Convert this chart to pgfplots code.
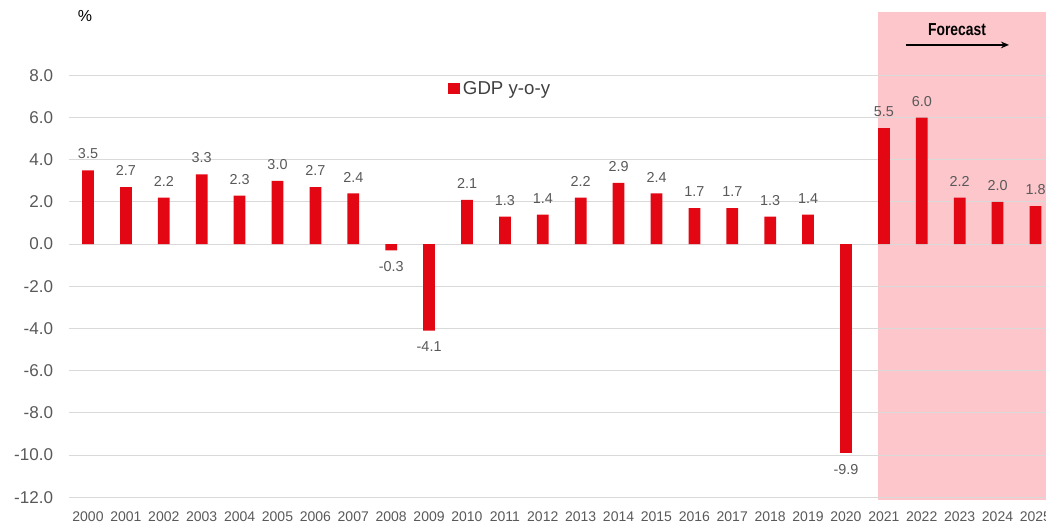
\documentclass[border=0pt]{standalone}
\usepackage{pgfplots}
\pgfplotsset{compat=1.18}
\usepackage{fontspec}
\setmainfont{Liberation Sans}
\newfontfamily\narrowfont[FakeStretch=0.8]{Liberation Sans}
\usetikzlibrary{arrows.meta}
\definecolor{barred}{HTML}{E30613}
\definecolor{fcpink}{HTML}{FCC6CB}
\definecolor{gridgray}{HTML}{D9D9D9}
\definecolor{txtgray}{HTML}{595959}
\definecolor{leggray}{HTML}{404040}
\begin{document}
\begin{tikzpicture}
\begin{axis}[
  set layers,
  x=28.425pt, y=15.825pt,
  xmin=1999.5, xmax=2025.5, ymin=-12, ymax=8,
  clip=false,
  axis line style={draw=none},
  major tick length=0pt,
  ymajorgrids, grid style={gridgray, line width=0.8pt},
  ytick={-12,-10,...,8},
  xtick={2000,...,2025},
  /pgf/number format/assume math mode=true,
  xticklabel style={font=\fontsize{10.5}{12}\selectfont, text=txtgray, yshift=-7pt, /pgf/number format/1000 sep={}},
  yticklabel style={font=\fontsize{12.8}{14}\selectfont, text=txtgray, xshift=-8.5pt,
     /pgf/number format/fixed, /pgf/number format/fixed zerofill, /pgf/number format/precision=1},
  ybar, bar width=8.8pt,
  nodes near coords,
  nodes near coords style={font=\fontsize{10.8}{12}\selectfont, text=txtgray, inner ysep=8.3pt,
     /pgf/number format/fixed, /pgf/number format/fixed zerofill, /pgf/number format/precision=1},
  legend style={at={(axis cs:2009.5,7.37)}, anchor=west, draw=none, fill=none,
     font=\fontsize{14}{16}\selectfont, text=leggray, inner sep=0pt},
]
\begin{pgfonlayer}{axis background}
\fill[fcpink] (axis cs:2020.84,-12.15) rectangle (axis cs:2026,11);
\end{pgfonlayer}
\addplot[fill=barred, draw=none,
  legend image code/.code={\fill[barred] (0pt,-4.2pt) rectangle (9pt,4.2pt);}]
  coordinates {
  (2000,3.5) (2001,2.7) (2002,2.2) (2003,3.3) (2004,2.3) (2005,3.0)
  (2006,2.7) (2007,2.4) (2008,-0.3) (2009,-4.1) (2010,2.1) (2011,1.3)
  (2012,1.4) (2013,2.2) (2014,2.9) (2015,2.4) (2016,1.7) (2017,1.7)
  (2018,1.3) (2019,1.4) (2020,-9.9) (2021,5.5) (2022,6.0) (2023,2.2)
  (2024,2.0) (2025,1.8)
  };
\addlegendentry{GDP y-o-y}
\node[font=\fontsize{12}{14}\selectfont] at (axis cs:1999.92,10.81) {\%};
\node[font=\narrowfont\bfseries\fontsize{13}{15}\selectfont] at (axis cs:2022.93,10.15) {Forecast};
\draw[line width=1pt, -{Stealth[length=6pt,width=5pt]}] (axis cs:2021.58,9.44) -- (axis cs:2024.30,9.44);
\coordinate (bbBL) at (axis cs:1997.678,-13.218);
\coordinate (bbTR) at (axis cs:2025.277,11.569);
\end{axis}
\pgfresetboundingbox
\useasboundingbox (bbBL) rectangle (bbTR);
\end{tikzpicture}
\end{document}
